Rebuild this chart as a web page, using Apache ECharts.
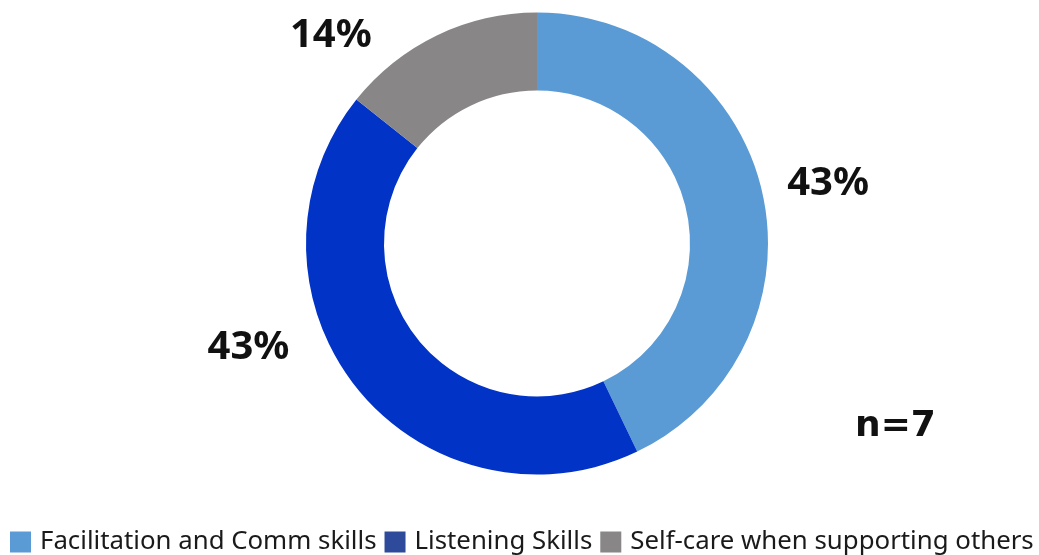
<!DOCTYPE html>
<html>
<head>
<meta charset="utf-8">
<script src="https://cdn.jsdelivr.net/npm/echarts@6/dist/echarts.min.js"></script>
<style>
  html, body { margin: 0; padding: 0; background: #fff; }
  #skillsDonut { width: 1039px; height: 555px; }
</style>
</head>
<body>
<div id="skillsDonut"></div>
<script>
  // data (n = 7 respondents)
  var categories = ['Facilitation and Comm skills', 'Listening Skills', 'Self-care when supporting others']
  var counts = [3, 3, 1]
  var sliceColors = ['#5b9bd5', '#0033c6', '#888687']
  var legendColors = ['#5b9bd5', '#2e4b9b', '#888687']
  var sampleNote = 'n=7'

  // nudges from the default outside spot to where the labels sit
  var labelNudge = [[25, -8], [-67, -40], [-65, 0]]

  var total = counts.reduce(function (a, b) { return a + b }, 0)

  var chart = echarts.init(document.getElementById('skillsDonut'))
  chart.setOption({
    animation: false,
    title: {
      text: sampleNote,
      left: 855,
      top: 409,
      padding: 0,
      textStyle: {
        fontFamily: 'DejaVu Sans',
        fontSize: 36,
        fontWeight: 'bold',
        color: '#111'
      }
    },
    legend: {
      left: 10,
      top: 529,
      width: 1100,
      padding: 0,
      itemWidth: 21,
      itemHeight: 21,
      itemGap: 8,
      icon: 'rect',
      textStyle: {
        fontFamily: 'Noto Sans',
        fontSize: 25.8,
        color: '#1a1a1a',
        padding: [0, 0, 0, 4]
      },
      data: categories.map(function (name, i) {
        return { name: name, itemStyle: { color: legendColors[i] } }
      })
    },
    series: [{
      type: 'pie',
      center: [537, 243.5],
      radius: [153, 231],
      startAngle: 90,
      clockwise: true,
      avoidLabelOverlap: false,
      emphasis: { disabled: true },
      label: {
        show: true,
        position: 'outside',
        distanceToLabelLine: 0,
        fontFamily: 'Noto Sans',
        fontSize: 40,
        fontWeight: 'bold',
        color: '#111',
        formatter: function (p) {
          return Math.round(p.value / total * 100) + '%'
        }
      },
      labelLine: { show: false, length: 0, length2: 0 },
      labelLayout: function (p) {
        var n = labelNudge[p.dataIndex]
        return { dx: n[0], dy: n[1] }
      },
      data: categories.map(function (name, i) {
        return { name: name, value: counts[i], itemStyle: { color: sliceColors[i] } }
      })
    }]
  })
</script>
</body>
</html>
